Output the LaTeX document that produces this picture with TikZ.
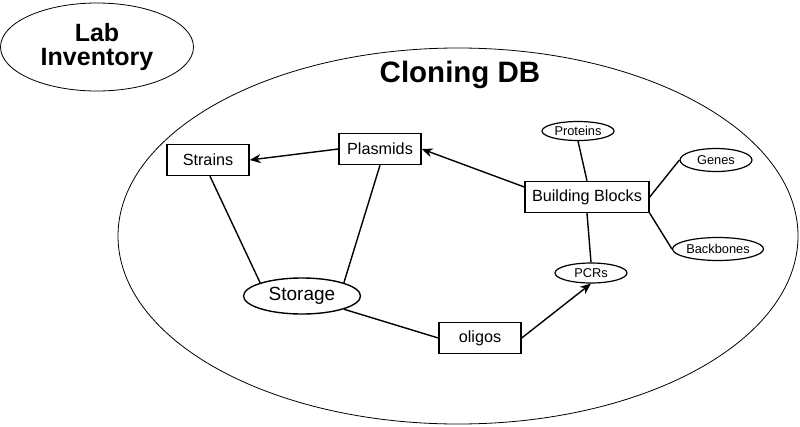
\documentclass[tikz,border=0pt]{standalone}
\usepackage{fontspec}
\setmainfont{Liberation Sans}
\usetikzlibrary{shapes.geometric,arrows.meta}
\begin{document}
\begin{tikzpicture}[x=1pt,y=-1pt,
  boxnode/.style={draw,line width=1.4pt,minimum width=82pt,minimum height=31pt,inner sep=0pt,font=\fontsize{16.2}{19}\selectfont},
  smallell/.style={draw,ellipse,line width=1.2pt,inner sep=0pt,font=\fontsize{12.8}{15}\selectfont},
  link/.style={line width=1.4pt},
  arr/.style={line width=1.4pt,-{Stealth[length=11pt,width=9pt]}}]
\useasboundingbox (0,0) rectangle (800,426);
% outer ellipses
\node[draw,ellipse,line width=0.8pt,minimum width=193pt,minimum height=88pt,inner sep=0pt,
  align=center,font=\bfseries\fontsize{25}{24}\selectfont] (lab) at (97,47) {Lab\\Inventory};
\node[draw,ellipse,line width=0.8pt,minimum width=680pt,minimum height=376pt,inner sep=0pt] (db) at (458,236) {};
\node[font=\bfseries\fontsize{29.5}{32}\selectfont] (title) at (460,75) {Cloning DB};
% boxes
\node[boxnode] (strains) at (208,160) {Strains};
\node[boxnode] (plasmids) at (380,149) {Plasmids};
\node[boxnode,minimum width=124pt] (bb) at (587,197) {Building Blocks};
\node[boxnode] (oligos) at (480,338) {oligos};
% ellipses
\node[draw,ellipse,line width=1.4pt,minimum width=117pt,minimum height=36pt,inner sep=0pt,
  font=\fontsize{19}{22}\selectfont] (storage) at (302,296) {Storage};
\node[smallell,minimum width=72pt,minimum height=20pt] (pcrs) at (591,273) {PCRs};
\node[smallell,minimum width=72pt,minimum height=19pt] (proteins) at (578,131) {Proteins};
\node[smallell,minimum width=72pt,minimum height=23pt] (genes) at (716,160) {Genes};
\node[smallell,minimum width=91pt,minimum height=23pt] (backbones) at (718,249) {Backbones};
% connectors
\draw[arr] (plasmids.west) -- (strains.east);
\draw[arr] (bb.west |- 0,187) -- (plasmids.east);
\draw[arr] (oligos.east) -- (pcrs.south);
\coordinate (s1) at ([xshift=2pt]strains.south);
\draw[link] (s1) -- (storage.north west);
\draw[link] (plasmids.south) -- (storage.north east);
\draw[link] (storage.south east) -- (oligos.west);
\draw[link] (bb.north) -- (proteins.south);
\draw[link] (bb.east) -- (genes.west);
\draw[link] (bb.south east) -- (backbones.west);
\draw[link] (bb.south) -- (pcrs.north);
\end{tikzpicture}
\end{document}
